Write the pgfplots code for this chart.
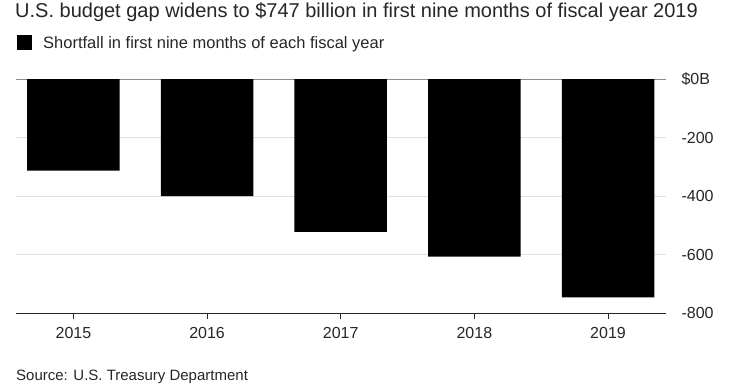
\documentclass[border=0pt]{standalone}
\usepackage{pgfplots}
\pgfplotsset{compat=1.18}
\usepackage{fontspec}
\setmainfont{Liberation Sans}
\begin{document}
\begin{tikzpicture}[x=1pt,y=1pt]
\useasboundingbox (0,0) rectangle (730,391);
\begin{axis}[
  at={(16pt,78pt)}, anchor=south west,
  scale only axis, width=650pt, height=234pt,
  xmin=-0.43, xmax=4.434, ymin=-800, ymax=0,
  axis x line*=bottom, axis y line*=right,
  y axis line style={draw=none},
  x axis line style={black!85, line width=1pt, -},
  xtick={0,1,2,3,4},
  xticklabels={2015,2016,2017,2018,2019},
  xtick style={black!85, line width=0.6pt},
  major tick length=6pt, tick align=outside,
  ytick={-200,-400,-600,-800},
  yticklabels={-200,-400,-600,-800},
  extra y ticks={0}, extra y tick labels={\$0B},
  extra y tick style={grid style={black!45, line width=1pt}, tick style={draw=none}},
  yticklabel pos=right,
  ymajorgrids, grid style={black!12, line width=1pt},
  ytick style={draw=none},
  tick label style={font=\fontsize{16}{19}\selectfont, text=black!85},
  yticklabel style={anchor=west, xshift=6pt},
  xticklabel style={yshift=-5pt},
  /pgf/number format/assume math mode=true,
  clip=false,
  legend style={draw=none, fill=none, at={(0.0015,1.154)}, anchor=west,
    font=\fontsize{16.5}{19}\selectfont, text=black!85, inner sep=0pt,
    nodes={inner sep=0pt}, column sep=0pt,
    legend cell align=left},
  legend image code/.code={\fill[black,draw=none] (0pt,-7.5pt) rectangle (15pt,7.5pt); \path[draw=none,fill=none] (0pt,-0.1pt) rectangle (26pt,0.1pt);},
]
\addplot[ybar, bar width=0.692, fill=black, draw=none] coordinates {
  (0,-313) (1,-400) (2,-523) (3,-607) (4,-747)
};
\addlegendentry{Shortfall in first nine months of each fiscal year}
\end{axis}
\node[anchor=base west, inner sep=0pt, text=black!85, font=\fontsize{20}{23}\selectfont] at (15,373) {U.S. budget gap widens to \$747 billion in first nine months of fiscal year 2019};
\node[anchor=base west, inner sep=0pt, text=black!85, font=\fontsize{15}{18}\selectfont] at (16,11) {Source: U.S. Treasury Department};
\end{tikzpicture}
\end{document}
